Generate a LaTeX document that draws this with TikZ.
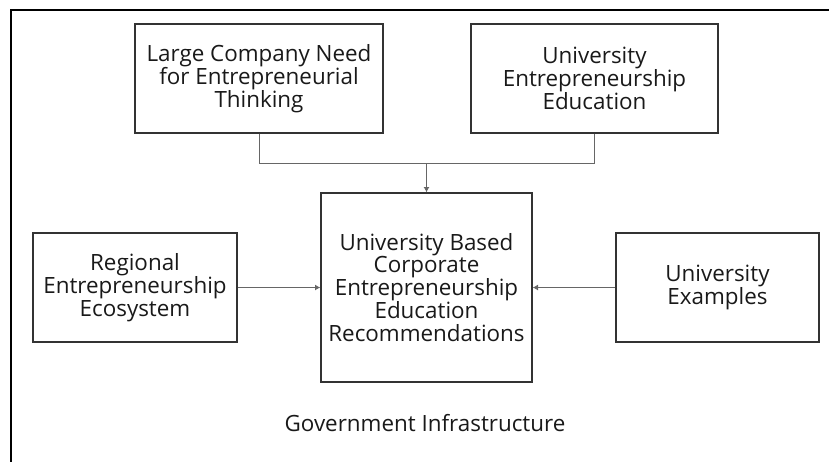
\documentclass[tikz,border=0pt]{standalone}
\usepackage{fontspec}
\setmainfont{Open Sans}
\usetikzlibrary{arrows.meta}

\begin{document}
\begin{tikzpicture}[x=0.75pt, y=-0.75pt,
		every node/.style={font=\fontsize{16.8}{17.2}\selectfont, text=black!90},
		block/.style={draw=black!80, line width=1pt, align=center, inner sep=0pt},
		link/.style={draw=black!60, line width=0.7pt},
		arrowtip/.style={-{Latex[length=4pt, width=4.5pt]}}]
				%%%%% START %%%%%
				\useasboundingbox (0, 0) rectangle (829, 462);
				
				% frame (only top and left edges show)
				\draw[line width=1pt] (829, 10) -- (11, 10) -- (11, 462);
				
				\node[block, minimum width=248*0.75pt, minimum height=109*0.75pt] (company) at (259, 78.5)
					{Large Company Need\\for Entrepreneurial\\Thinking};
				\node[block, minimum width=247*0.75pt, minimum height=109*0.75pt] (uniedu) at (594.5, 78.5)
					{University\\Entrepreneurship\\Education};
				
				\node[block, minimum width=211*0.75pt, minimum height=189*0.75pt] (recommend) at (426.5, 287.5)
					{University Based\\Corporate\\Entrepreneurship\\Education\\Recommendations};
				
				\node[block, minimum width=204*0.75pt, minimum height=109*0.75pt] (regional) at (135, 287.5)
					{Regional\\Entrepreneurship\\Ecosystem};
				\node[block, minimum width=203*0.75pt, minimum height=109*0.75pt] (examples) at (717.5, 287.5)
					{University\\Examples};
				
				\node (gov) at (425, 423) {Government Infrastructure};
				
				% connectors
				\coordinate (join) at (426.5, 163);
				\draw[link] (company.south) |- (join);
				\draw[link] (uniedu.south) |- (join);
				\draw[link, arrowtip] (join) -- (recommend.north);
				\draw[link, arrowtip] (regional.east) -- (recommend.west);
				\draw[link, arrowtip] (examples.west) -- (recommend.east);
				%%%%% END %%%%%
\end{tikzpicture}
\end{document}
